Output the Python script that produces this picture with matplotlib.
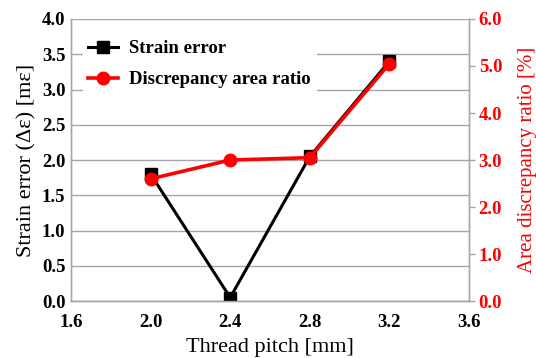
import matplotlib
matplotlib.use("Agg")
import matplotlib.pyplot as plt

plt.rcParams['font.family'] = ['Liberation Serif', 'DejaVu Serif']
plt.rcParams['mathtext.fontset'] = 'stix'

pitch = [2.0, 2.4, 2.8, 3.2]
strain_error = [1.80, 0.05, 2.05, 3.40]
discrepancy_ratio = [2.60, 3.00, 3.05, 5.05]
x_ticks = [1.6, 2.0, 2.4, 2.8, 3.2, 3.6]
y_left_ticks = [0.0, 0.5, 1.0, 1.5, 2.0, 2.5, 3.0, 3.5, 4.0]
y_right_ticks = [0.0, 1.0, 2.0, 3.0, 4.0, 5.0, 6.0]

fig = plt.figure(figsize=(5.36, 3.58), dpi=100)
ax = fig.add_axes([0.1325, 0.159, 0.7425, 0.788])
ax2 = ax.twinx()

grid_c = '#a6a6a6'
for y in y_left_ticks:
    ax.axhline(y, color=grid_c, lw=1.0, zorder=0)

l1, = ax.plot(pitch, strain_error, color='black', lw=2.2, marker='s', ms=8,
              label='Strain error', zorder=3)
l2, = ax2.plot(pitch, discrepancy_ratio, color='red', lw=2.6, marker='o', ms=9,
               label='Discrepancy area ratio', zorder=4)

ax.set_xlim(1.6, 3.6)
ax.set_ylim(0, 4.0)
ax2.set_ylim(0, 6.0)
ax.set_xticks(x_ticks)
ax.set_xticklabels([f"{v:.1f}" for v in x_ticks])
ax.set_yticks(y_left_ticks)
ax.set_yticklabels([f"{v:.1f}" for v in y_left_ticks])
ax2.set_yticks(y_right_ticks)
ax2.set_yticklabels([f"{v:.1f}" for v in y_right_ticks])

for a in (ax, ax2):
    for s in a.spines.values():
        s.set_color(grid_c)
        s.set_linewidth(1.0)
ax2.spines['top'].set_visible(False)
ax.spines['top'].set_visible(False)

ax.tick_params(axis='both', length=0, labelsize=13.5, pad=4)
ax.tick_params(axis='x', pad=9)
ax2.tick_params(axis='y', length=4, width=1.0, color=grid_c, labelsize=13.5,
                labelcolor='red', pad=3)
for lab in ax.get_xticklabels() + ax.get_yticklabels():
    lab.set_fontweight('bold')
for lab in ax2.get_yticklabels():
    lab.set_fontweight('bold')

ax.set_xlabel('Thread pitch [mm]', fontsize=16, labelpad=5)
ax.set_ylabel('Strain error (Δε) [mε]', fontsize=16, labelpad=4)
ax2.set_ylabel('Area discrepancy ratio [%]', fontsize=15, color='red', labelpad=11)

ax2.set_zorder(ax.get_zorder() + 1)
ax.patch.set_visible(True)
ax2.patch.set_visible(False)

leg = ax2.legend(handles=[l1, l2], loc='upper left', bbox_to_anchor=(0.015, 0.965),
                 frameon=True, fancybox=False, edgecolor='white', framealpha=1.0,
                 prop={'weight': 'bold', 'size': 13.5}, handlelength=1.6,
                 handletextpad=0.6, borderpad=0.3, labelspacing=0.75,
                 borderaxespad=0.3)
leg.get_frame().set_linewidth(0)

fig.savefig('out.png', dpi=100)
